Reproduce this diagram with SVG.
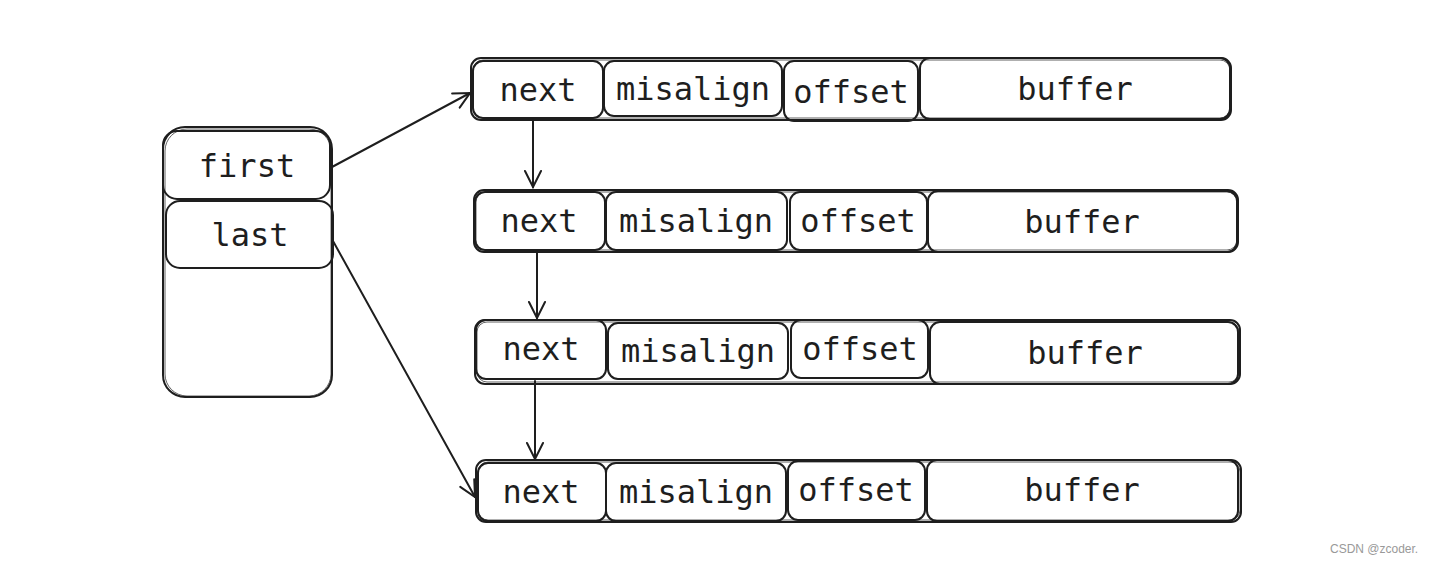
<svg xmlns="http://www.w3.org/2000/svg" width="1432" height="563" viewBox="0 0 1432 563">
<defs>
<style>
.b{fill:none;stroke:#1e1e1e;stroke-width:2;stroke-linejoin:round}
.s{fill:none;stroke:#1e1e1e;stroke-width:1;opacity:0.7}
.t{font-family:"DejaVu Sans Mono","Liberation Mono",monospace;font-size:32px;fill:#1e1e1e;text-anchor:middle;dominant-baseline:central}
.c{stroke:#1e1e1e;stroke-width:2;fill:none;stroke-linecap:round}
.w{font-family:"Liberation Sans",Arial,sans-serif;font-size:12px;fill:#999}
</style>
<marker id="ah" viewBox="0 0 20 20" refX="18" refY="10" markerWidth="20" markerHeight="20" markerUnits="userSpaceOnUse" orient="auto">
<path d="M2,2 L18,10 L2,18" fill="none" stroke="#1e1e1e" stroke-width="2" stroke-linecap="round"/>
</marker>
</defs>
<rect width="1432" height="563" fill="#fff"/>

<g id="head">
<rect class="b" x="163" y="127" width="169" height="270" rx="22"/>
<rect class="s" x="165" y="129" width="166" height="267" rx="22"/>
<g id="first">
<rect class="b" x="163" y="131" width="167" height="68" rx="14"/>
<text class="t" x="247" y="166">first</text>
</g>
<g id="last">
<rect class="b" x="166" y="201" width="167" height="67" rx="14"/>
<text class="t" x="250" y="235">last</text>
</g>
</g>

<g id="row1">
<rect class="b" x="471" y="58" width="760" height="62" rx="10"/>
<rect class="s" x="473" y="60" width="757" height="58" rx="10"/>
<rect class="b" x="473" y="61" width="130" height="57" rx="10"/>
<text class="t" x="538" y="90">next</text>
<rect class="b" x="604" y="61" width="178" height="55" rx="10"/>
<text class="t" x="693" y="89">misalign</text>
<rect class="b" x="784" y="61" width="134" height="60" rx="10"/>
<text class="t" x="851" y="92">offset</text>
<rect class="b" x="920" y="58" width="310" height="61" rx="10"/>
<text class="t" x="1075" y="89">buffer</text>
</g>

<g id="row2">
<rect class="b" x="474" y="190" width="764" height="62" rx="10"/>
<rect class="s" x="476" y="192" width="761" height="58" rx="10"/>
<rect class="b" x="475" y="192" width="130" height="58" rx="10"/>
<text class="t" x="539" y="221">next</text>
<rect class="b" x="606" y="192" width="181" height="58" rx="10"/>
<text class="t" x="696" y="221">misalign</text>
<rect class="b" x="790" y="192" width="137" height="58" rx="10"/>
<text class="t" x="858" y="221">offset</text>
<rect class="b" x="928" y="191" width="309" height="61" rx="10"/>
<text class="t" x="1082" y="222">buffer</text>
</g>

<g id="row3">
<rect class="b" x="475" y="320" width="765" height="64" rx="10"/>
<rect class="s" x="477" y="322" width="762" height="60" rx="10"/>
<rect class="b" x="476" y="320" width="130" height="59" rx="10"/>
<text class="t" x="541" y="349">next</text>
<rect class="b" x="608" y="323" width="180" height="56" rx="10"/>
<text class="t" x="698" y="351">misalign</text>
<rect class="b" x="791" y="320" width="137" height="58" rx="10"/>
<text class="t" x="860" y="349">offset</text>
<rect class="b" x="930" y="322" width="308" height="62" rx="10"/>
<text class="t" x="1085" y="353">buffer</text>
</g>

<g id="row4">
<rect class="b" x="476" y="460" width="765" height="62" rx="10"/>
<rect class="s" x="478" y="462" width="762" height="58" rx="10"/>
<rect class="b" x="478" y="463" width="128" height="58" rx="10"/>
<text class="t" x="541" y="492">next</text>
<rect class="b" x="606" y="463" width="180" height="58" rx="10"/>
<text class="t" x="696" y="492">misalign</text>
<rect class="b" x="788" y="461" width="137" height="59" rx="10"/>
<text class="t" x="856" y="490">offset</text>
<rect class="b" x="927" y="460" width="311" height="61" rx="10"/>
<text class="t" x="1082" y="490">buffer</text>
</g>

<g id="connectors">
<line class="c" x1="332" y1="167" x2="470" y2="93" marker-end="url(#ah)"/>
<line class="c" x1="333" y1="241" x2="475" y2="497" marker-end="url(#ah)"/>
<line class="c" x1="533" y1="119" x2="533" y2="187" marker-end="url(#ah)"/>
<line class="c" x1="537" y1="251" x2="537" y2="318" marker-end="url(#ah)"/>
<line class="c" x1="535" y1="381" x2="535" y2="459" marker-end="url(#ah)"/>
</g>

<text class="w" x="1330" y="553">CSDN @zcoder.</text>
</svg>
